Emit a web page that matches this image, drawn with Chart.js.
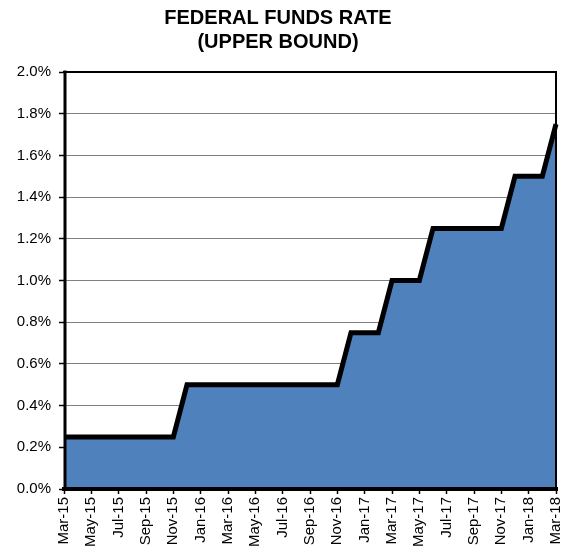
<!DOCTYPE html>
<html>
<head>
<meta charset="utf-8">
<script src="https://cdn.jsdelivr.net/npm/chart.js@4.4.1/dist/chart.umd.min.js"></script>
<style>
  html, body { margin: 0; padding: 0; background: #fff; }
  #wrap { width: 568px; height: 552px; }
</style>
</head>
<body>
<div id="wrap"><canvas id="c" width="568" height="552"></canvas></div>
<script>
// Month labels, Mar-15 through Mar-18
const months = [
  'Mar-15','Apr-15','May-15','Jun-15','Jul-15','Aug-15','Sep-15','Oct-15','Nov-15','Dec-15',
  'Jan-16','Feb-16','Mar-16','Apr-16','May-16','Jun-16','Jul-16','Aug-16','Sep-16','Oct-16','Nov-16','Dec-16',
  'Jan-17','Feb-17','Mar-17','Apr-17','May-17','Jun-17','Jul-17','Aug-17','Sep-17','Oct-17','Nov-17','Dec-17',
  'Jan-18','Feb-18','Mar-18'
];

// Upper bound of the target range, percent
const upperBound = [
  0.25,0.25,0.25,0.25,0.25,0.25,0.25,0.25,0.25,0.50,
  0.50,0.50,0.50,0.50,0.50,0.50,0.50,0.50,0.50,0.50,0.50,0.75,
  0.75,0.75,1.00,1.00,1.00,1.25,1.25,1.25,1.25,1.25,1.25,1.50,
  1.50,1.50,1.75
];

const titleLines = ['FEDERAL FUNDS RATE', '(UPPER BOUND)'];
const FONT = '"Liberation Sans", Arial, sans-serif';

// Black frame around the plot area, drawn over the filled area
const framePlugin = {
  id: 'frame',
  afterDatasetsDraw(chart) {
    const { ctx, chartArea: a } = chart;
    ctx.save();
    ctx.strokeStyle = '#000';
    ctx.lineCap = 'square';
    ctx.lineWidth = 2;
    ctx.beginPath();
    ctx.moveTo(a.left, a.top);
    ctx.lineTo(a.right, a.top);
    ctx.lineTo(a.right, a.bottom);
    ctx.stroke();
    ctx.lineWidth = 3;
    ctx.beginPath();
    ctx.moveTo(a.left + 1, a.top);
    ctx.lineTo(a.left + 1, a.bottom);
    ctx.stroke();
    ctx.lineWidth = 4;
    ctx.beginPath();
    ctx.moveTo(a.left, a.bottom);
    ctx.lineTo(a.right, a.bottom);
    ctx.stroke();
    ctx.restore();
  }
};

new Chart(document.getElementById('c'), {
  type: 'line',
  data: {
    labels: months,
    datasets: [{
      data: upperBound,
      fill: 'origin',
      backgroundColor: '#4F81BD',
      borderColor: '#000',
      borderWidth: 5,
      borderJoinStyle: 'miter',
      pointRadius: 0,
      tension: 0,
      clip: 6
    }]
  },
  options: {
    responsive: false,
    animation: false,
    layout: { padding: { left: 0, right: 12, top: 0, bottom: 0 } },
    plugins: {
      legend: { display: false },
      tooltip: { enabled: false },
      title: {
        display: true,
        text: titleLines,
        color: '#000',
        font: { family: FONT, size: 20, weight: 'bold', lineHeight: 1.2 },
        padding: { top: 6, bottom: 18 }
      }
    },
    scales: {
      x: {
        offset: false,
        border: { display: false },
        grid: {
          drawOnChartArea: false,
          drawTicks: true,
          tickLength: 5,
          tickWidth: 1.5,
          tickColor: (c) => (c.index % 2 === 0 ? '#000' : 'rgba(0,0,0,0)')
        },
        ticks: {
          autoSkip: false,
          maxRotation: 90,
          minRotation: 90,
          padding: 3,
          color: '#000',
          font: { family: FONT, size: 15 },
          callback: (v, i) => (i % 2 === 0 ? months[i] : '')
        },
        afterFit: (s) => {
          s.height = 63;
          s.paddingLeft = 0;
          s.paddingRight = 0;
        }
      },
      y: {
        min: 0,
        max: 2.0,
        border: { display: false },
        grid: {
          color: '#808080',
          lineWidth: 1,
          drawTicks: true,
          tickLength: 5,
          tickWidth: 1.5,
          tickColor: '#000'
        },
        ticks: {
          stepSize: 0.2,
          padding: 8,
          color: '#000',
          font: { family: FONT, size: 15 },
          callback: (v) => v.toFixed(1) + '%'
        },
        afterFit: (s) => { s.width = 64; }
      }
    }
  },
  plugins: [framePlugin]
});
</script>
</body>
</html>
